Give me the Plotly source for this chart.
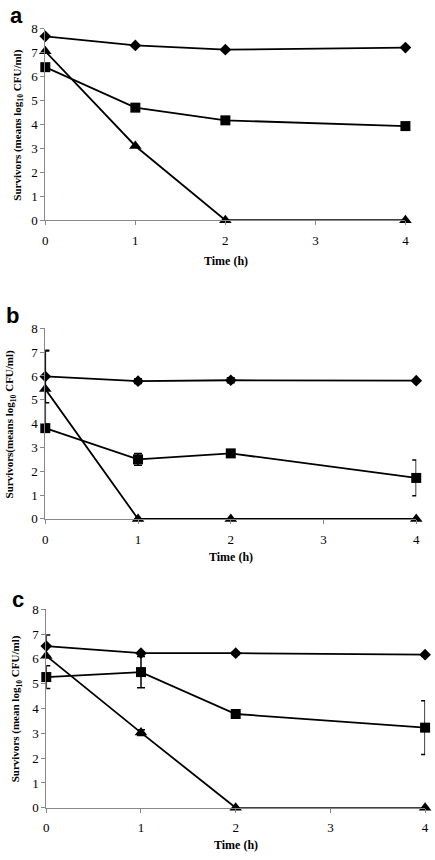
import plotly.graph_objects as go

W, H = 435, 860

time = [0, 1, 2, 4]
x_ticks = [0, 1, 2, 3, 4]
y_ticks = [0, 1, 2, 3, 4, 5, 6, 7, 8]

a_diamond = [7.68, 7.30, 7.12, 7.21]
a_square = [6.39, 4.70, 4.17, 3.93]
a_triangle = [7.05, 3.10, 0, 0]

b_diamond = [5.98, 5.78, 5.82, 5.80]
b_diamond_err = [1.1, 0.1, 0.1, 0]
b_square = [3.81, 2.50, 2.75, 1.72]
b_square_err = [0.15, 0.25, 0.1, 0.75]
b_triangle = [5.45, 0, 0, 0]
b_triangle_err = [1.6, 0, 0, 0]

c_diamond = [6.52, 6.23, 6.23, 6.17]
c_diamond_err = [0.44, 0.05, 0.05, 0.05]
c_square = [5.27, 5.47, 3.78, 3.23]
c_square_err = [0.46, 0.63, 0.12, 1.08]
c_triangle = [6.12, 3.03, 0, 0]
c_triangle_err = [0, 0.12, 0, 0]

panel_labels = ["a", "b", "c"]
y_titles = [
    "Survivors (means log<sub>10</sub> CFU/ml)",
    "Survivors(means log<sub>10</sub> CFU/ml)",
    "Survivors (mean log<sub>10</sub> CFU/ml)",
]
x_title = "Time (h)"

SERIF = "Liberation Serif, Times New Roman, serif"
SANS = "Liberation Sans, Arial, sans-serif"

# pixel geometry of each panel: (x_left, x_right, y_top, y_bottom)
geo = [(43, 409, 22, 217), (43, 420, 327, 521), (44, 429, 613, 815)]
title_y_pos = [(15, 120), (7, 424), (13, 714)]
xtitle_pos = [(227, 258), (232, 560), (237, 853)]
label_pos = [(14, 9), (10, 314), (15, 603)]

def px(x):
    return x / W

def py(y):
    return 1 - y / H

fig = go.Figure()

panels = [
    (a_diamond, None, a_square, None, a_triangle, None),
    (b_diamond, b_diamond_err, b_square, b_square_err, b_triangle, b_triangle_err),
    (c_diamond, c_diamond_err, c_square, c_square_err, c_triangle, c_triangle_err),
]
symbols = ["diamond", "square", "triangle-up"]
sizes = [9, 10, 11]

for i, p in enumerate(panels):
    xa = "x" if i == 0 else f"x{i+1}"
    ya = "y" if i == 0 else f"y{i+1}"
    for k in range(3):
        vals, err = p[2 * k], p[2 * k + 1]
        tr = dict(
            x=time, y=vals, mode="lines+markers", xaxis=xa, yaxis=ya,
            line=dict(color="black", width=1.8),
            marker=dict(symbol=symbols[k], size=sizes[k], color="black"),
            cliponaxis=False, showlegend=False,
        )
        if err is not None:
            tr["error_y"] = dict(type="data", array=err, visible=True,
                                 color="black", thickness=1.5, width=4)
        fig.add_trace(go.Scatter(**tr))

layout = dict(
    width=W, height=H, margin=dict(l=0, r=0, t=0, b=0),
    paper_bgcolor="white", plot_bgcolor="white", showlegend=False,
)
annotations = []
for i, (xl, xr, yt, yb) in enumerate(geo):
    sfx = "" if i == 0 else str(i + 1)
    layout["xaxis" + sfx] = dict(
        domain=[px(xl), px(xr)], range=[0, 4], anchor="y" + sfx,
        tickvals=x_ticks, ticks="outside", ticklen=4, tickcolor="#888",
        showline=True, linecolor="#888", linewidth=1, showgrid=False,
        zeroline=False, tickfont=dict(family=SERIF, size=13, color="black"),
        ticklabelstandoff=4,
    )
    layout["yaxis" + sfx] = dict(
        domain=[py(yb), py(yt)], range=[0, 8], anchor="x" + sfx,
        tickvals=y_ticks, ticks="outside", ticklen=4, tickcolor="#888",
        showline=True, linecolor="#888", linewidth=1, showgrid=False,
        zeroline=False, tickfont=dict(family=SERIF, size=13, color="black"),
    )
    annotations.append(dict(
        x=px(title_y_pos[i][0]), y=py(title_y_pos[i][1]), xref="paper", yref="paper",
        text="<b>" + y_titles[i] + "</b>", textangle=-90, showarrow=False,
        font=dict(family=SERIF, size=11, color="black"),
        xanchor="center", yanchor="middle",
    ))
    annotations.append(dict(
        x=px(xtitle_pos[i][0]), y=py(xtitle_pos[i][1]), xref="paper", yref="paper",
        text="<b>" + x_title + "</b>", showarrow=False,
        font=dict(family=SERIF, size=12, color="black"),
        xanchor="center", yanchor="middle",
    ))
    annotations.append(dict(
        x=px(label_pos[i][0]), y=py(label_pos[i][1]), xref="paper", yref="paper",
        text="<b>" + panel_labels[i] + "</b>", showarrow=False,
        font=dict(family=SANS, size=22, color="black"),
        xanchor="center", yanchor="middle",
    ))
layout["annotations"] = annotations
fig.update_layout(**layout)

fig.write_html(
    "out.html",
    config={"displayModeBar": False},
    post_script="document.body.style.margin='0';document.body.style.overflow='hidden';",
)
